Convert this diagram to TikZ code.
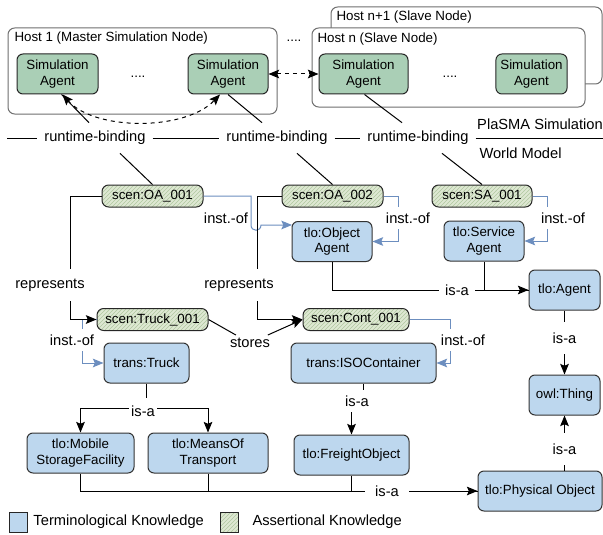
\documentclass[tikz,border=0pt]{standalone}
\usepackage{fontspec}
\setmainfont{Liberation Sans}
\usetikzlibrary{arrows.meta,calc,patterns}

\definecolor{termblue}{RGB}{189,215,238}
\definecolor{agentgreen}{RGB}{170,207,182}
\definecolor{scenbg}{RGB}{222,232,211}
\definecolor{scenline}{RGB}{176,200,160}
\definecolor{instblue}{RGB}{108,142,191}
\definecolor{hostgray}{RGB}{110,110,110}

\tikzset{
  nw/.style={minimum width=#1*0.75pt},
  nh/.style={minimum height=#1*0.75pt},
  host/.style={draw=hostgray, fill=white, rounded corners=5pt, inner sep=0pt},
  title/.style={anchor=west, inner sep=0pt, font=\fontsize{10}{12}\selectfont},
  agent/.style={draw=black!85, fill=agentgreen, rounded corners=4.5pt, nh=40, align=center, font=\fontsize{10}{11.5}\selectfont},
  scen/.style={draw=black!85, preaction={fill=scenbg}, pattern=north east lines, pattern color=scenline, rounded corners=5pt, nh=22, inner sep=1pt, font=\fontsize{10}{12}\selectfont},
  term/.style={draw=black!80, fill=termblue, rounded corners=4.5pt, nh=40, align=center, font=\fontsize{10}{11.5}\selectfont},
  bind/.style={inner xsep=5pt, inner ysep=6pt, font=\fontsize{11}{13}\selectfont},
  lbl/.style={fill=white, inner xsep=2pt, inner ysep=4pt, font=\fontsize{11}{13}\selectfont},
  inst/.style={draw=instblue, -{Stealth[length=8pt,width=6.5pt,inset=1.5pt]}},
  ellip/.style={font=\fontsize{10}{12}\selectfont, inner sep=1pt},
}

\begin{document}
\begin{tikzpicture}[x=0.75pt, y=-0.75pt, line width=0.75pt, >={Stealth[length=8pt,width=6.5pt,inset=1.5pt]}]
\useasboundingbox (0,0) rectangle (603,535);

% simulation layer
\node[host, nw=271, nh=77] (hostn1) at (466.5,45.5) {};
\node[title] (tn1) at (336,17) {Host n+1 (Slave Node)};
\node[host, nw=273, nh=79] (hostn) at (448.5,67.5) {};
\node[title] (tn) at (317,39) {Host n (Slave Node)};
\node[host, nw=269, nh=86] (host1) at (142.5,71) {};
\node[title] (t1) at (14,38) {Host 1 (Master Simulation Node)};

\node[agent, nw=81] (ag1) at (57.5,74) {Simulation\\Agent};
\node[agent, nw=80] (ag2) at (228,74) {Simulation\\Agent};
\node[agent, nw=89] (ag3) at (363.5,74) {Simulation\\Agent};
\node[agent, nw=71] (ag4) at (531.5,74) {Simulation\\Agent};
\node[ellip] (d1) at (138,77) {....};
\node[ellip] (d2) at (450,77) {....};
\node[ellip] (d3) at (294,41) {....};

\draw[dashed, <->] (ag2.east) -- (ag3.west);
\draw[dashed, <->] ($(ag1.south)+(5,0)$) .. controls (95,131) and (185,131) .. ($(ag2.south)+(-8,0)$);

\node[bind] (rb1) at (95,138) {runtime-binding};
\node[bind] (rb2) at (277,138) {runtime-binding};
\node[bind] (rb3) at (418,138) {runtime-binding};
\coordinate (bl) at (7,138);
\coordinate (br) at (603,138);
\draw (bl) -- (rb1) -- (rb2) -- (rb3) -- (br);
\node[bind, inner sep=0pt] (plasma) at (540,124) {PlaSMA Simulation};
\node[bind, inner sep=0pt, anchor=west] (world) at (479,153) {World Model};

\draw ($(ag1.south)+(4,0)$) -- ($(rb1.north)+(-6,0)$);
\draw (ag2.south) -- ($(rb2.north)+(-15,0)$);
\draw ($(ag3.south)+(1,0)$) -- ($(rb3.north)+(-16,0)$);

% world model
\node[scen, nw=101] (oa1) at (152.5,196) {scen:OA\_001};
\node[scen, nw=101] (oa2) at (332.5,196) {scen:OA\_002};
\node[scen, nw=100] (sa1) at (482,196) {scen:SA\_001};
\node[scen, nw=111] (truck1) at (152.5,319.5) {scen:Truck\_001};
\node[scen, nw=106] (cont1) at (356,319.5) {scen:Cont\_001};

\node[term, nw=80] (objag) at (332,241.5) {tlo:Object\\Agent};
\node[term, nw=80] (servag) at (484,241) {tlo:Service\\Agent};
\node[term, nw=71] (agent) at (564.5,290) {tlo:Agent};
\node[term, nw=85] (truck) at (146.5,363) {trans:Truck};
\node[term, nw=145] (iso) at (363.5,363) {trans:ISOContainer};
\node[term, nw=107] (mobile) at (80.5,453) {tlo:Mobile\\StorageFacility};
\node[term, nw=120] (means) at (208,453) {tlo:MeansOf\\Transport};
\node[term, nw=115] (freight) at (351.5,455) {tlo:FreightObject};
\node[term, nw=71] (thing) at (564.5,395) {owl:Thing};
\node[term, nw=124] (phys) at (540,491) {tlo:Physical Object};

\draw ($(rb1.south)+(25,0)$) -- (oa1.north);
\draw ($(rb2.south)+(20,0)$) -- (oa2.north);
\draw ($(rb3.south)+(24,0)$) -- (sa1.north);

\draw[inst] (oa1.east) -| (251,225) .. controls (251,232) and (261,232) .. (261,225) -- (292,225);
\draw[inst] (oa2.east) -- ++(15,0) |- (objag.east);
\draw[inst] (sa1.east) -- ++(15,0) |- (servag.east);
\draw[inst] (truck1.west) -- ++(-14,0) |- (truck.west);
\draw[inst] (cont1.east) -- ++(41,0) |- (iso.east);

\draw[->] (oa1.west) -- ++(-31,0) |- (truck1.west);
\draw[->] (oa2.west) -- ++(-24,0) |- (cont1.west);
\node[lbl, inner ysep=2pt] (stores) at (250,343) {stores};
\draw (truck1.east) -- (stores);
\draw[->] (stores) -- (cont1.west);

\draw[->] (objag.south) |- (agent.west);
\draw (servag.south) |- (agent.west);
\draw[->] (agent.south) -- (thing.north);
\draw[->] (phys.north -| thing.south) -- (thing.south);
\draw (truck.south) -- ++(0,25) coordinate (fork);
\draw[->] (fork) -| (mobile.north);
\draw[->] (fork) -| (means.north);
\draw[->] (iso.south) -- ++(0,18) -| (freight.north);
\draw (mobile.south) |- (phys.west);
\draw (means.south) |- (phys.west);
\draw[->] (freight.south) |- (phys.west);

\node[lbl, inner ysep=7pt] (rep1) at (50,285) {represents};
\node[lbl, inner ysep=7pt] (rep2) at (239,285) {represents};
\node[lbl, inner xsep=0.5pt] (io1) at (226,218) {inst.-of};
\node[lbl] (io2) at (408,218) {inst.-of};
\node[lbl] (io3) at (563,218) {inst.-of};
\node[lbl] (io4) at (72,340) {inst.-of};
\node[lbl] (io5) at (463,340) {inst.-of};
\node[lbl, inner xsep=5pt] (isa1) at (457,290) {is-a};
\node[lbl, inner ysep=8pt] (isa2) at (564.5,338) {is-a};
\node[lbl, inner ysep=8pt] (isa3) at (564.5,449) {is-a};
\node[lbl, inner ysep=6pt] (isa4) at (143,411) {is-a};
\node[lbl] (isa5) at (357,401) {is-a};
\node[lbl, inner xsep=8pt] (isa6) at (387,491) {is-a};

% legend
\node[draw=black!85, fill=termblue, nw=18, nh=20, inner sep=0pt] (keyt) at (18,522) {};
\node[bind, inner sep=0pt, anchor=west] (keyttext) at (33,522) {Terminological Knowledge};
\node[draw=black!85, preaction={fill=scenbg}, pattern=north east lines, pattern color=scenline, nw=18, nh=20, inner sep=0pt] (keya) at (229,522) {};
\node[bind, inner sep=0pt, anchor=west] (keyatext) at (252,522) {Assertional Knowledge};
\end{tikzpicture}
\end{document}
